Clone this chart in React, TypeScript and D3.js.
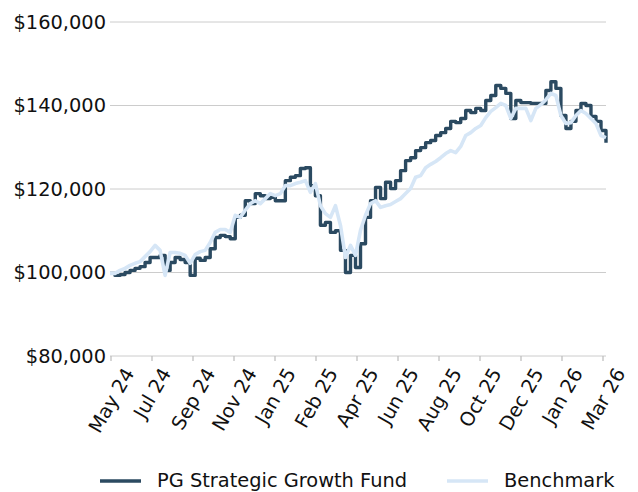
import React, { useRef, useEffect } from "react";
import * as d3 from "d3";

const width = 638;
const height = 492;
const font = "DejaVu Sans";
const fontSize = 19.4;

const tickLabels = [
  "May 24", "Jul 24", "Sep 24", "Nov 24", "Jan 25", "Feb 25", "Apr 25",
  "Jun 25", "Aug 25", "Oct 25", "Dec 25", "Jan 26", "Mar 26",
];
const yTicks = [80000, 100000, 120000, 140000, 160000];

// values in $ thousands, roughly weekly
const fundValues = [
  99.8, 99.3, 99.5, 100, 100.5, 101, 101.4, 102.4, 103.6, 103.6,
  104.1, 100.5, 102.4, 103.6, 103.1, 102.4, 99.3, 103.4, 102.9, 103.6,
  105.7, 108.4, 108.9, 108.6, 108.1, 113.2, 113.7, 117.2, 116.5, 118.9,
  118.4, 117.7, 118, 117.2, 117.2, 122, 122.8, 123.2, 124.9, 125.1,
  120.8, 118.4, 111.3, 112, 109.6, 110, 105.3, 100, 104.1, 101.2,
  106.9, 113.2, 117.2, 120.4, 117.7, 121.6, 120.1, 122, 124.4, 126.8,
  127.5, 129.2, 129.9, 131.1, 131.6, 132.8, 133.5, 134.5, 136.2, 135.9,
  136.9, 138.8, 138.3, 139.3, 138.8, 141.2, 142.4, 144.8, 144.1, 142.9,
  136.9, 141.2, 140.7, 140.7, 140.5, 140.5, 140.5, 143.6, 145.7, 144.1,
  137.6, 134.5, 136.2, 138.8, 140.5, 140, 137.4, 136.2, 134, 131.1,
];
const benchmarkValues = [
  99.8, 99.8, 100.5, 101, 101.7, 102.2, 102.6, 103.8, 105, 106.5,
  105.3, 99.3, 104.8, 104.8, 104.6, 104.1, 102.2, 104.3, 105, 105.3,
  107.2, 109.6, 110.3, 110.3, 109.6, 113.7, 113.2, 114.9, 116.5, 117.2,
  116.5, 117.7, 118.9, 118.4, 118.9, 120.8, 120.8, 121.3, 121.6, 122,
  119.2, 121.3, 116, 114.1, 113.2, 116, 111.3, 103.6, 106.5, 104.1,
  110.1, 113.7, 116.5, 117.2, 115.6, 116, 116.3, 117, 117.7, 118.9,
  120.1, 122.8, 123.2, 125.1, 125.9, 126.6, 127.5, 128.5, 129.2, 128.7,
  130.2, 132.8, 133.5, 134.5, 135.2, 137.1, 138.6, 139.5, 140.5, 140,
  136.9, 139.3, 139.3, 139.3, 136.4, 139.3, 140.2, 141.4, 142.9, 142.4,
  137.6, 135.7, 135.9, 137.6, 138.8, 138.1, 136.9, 135.7, 132.8, 132.3,
];

const fundColor = "#2b4a61";
const benchColor = "#d6e6f6";

export default function App() {
  const svgRef = useRef<SVGSVGElement>(null);

  useEffect(() => {
    const svg = d3.select(svgRef.current);
    svg.selectAll("*").remove();

    const x = d3.scaleLinear().domain([0, fundValues.length - 1]).range([110, 606]);
    const y = d3.scaleLinear().domain([80000, 160000]).range([356, 22]);
    const xt = d3.scalePoint().domain(tickLabels).range([111, 603]);
    const fmt = d3.format("$,.0f");

    // gridlines
    svg.append("g")
      .selectAll("line")
      .data(yTicks)
      .enter()
      .append("line")
      .attr("x1", 110)
      .attr("x2", 606)
      .attr("y1", d => y(d))
      .attr("y2", d => y(d))
      .attr("stroke", "#cccccc")
      .attr("stroke-width", 1);

    svg.append("g")
      .selectAll("text")
      .data(yTicks)
      .enter()
      .append("text")
      .attr("x", 106)
      .attr("y", d => y(d))
      .attr("dy", "0.36em")
      .attr("text-anchor", "end")
      .attr("font-family", font)
      .attr("font-size", fontSize)
      .attr("fill", "#111")
      .text(d => fmt(d));

    // x ticks
    const xg = svg.append("g");
    xg.selectAll("line")
      .data(tickLabels)
      .enter()
      .append("line")
      .attr("x1", d => xt(d)!)
      .attr("x2", d => xt(d)!)
      .attr("y1", 356)
      .attr("y2", 361)
      .attr("stroke", "#bbbbbb")
      .attr("stroke-width", 1.2);

    const h = fontSize * 0.73;
    const s = Math.sin(Math.PI / 3);
    const c = Math.cos(Math.PI / 3);
    xg.selectAll("text")
      .data(tickLabels)
      .enter()
      .append("text")
      .attr("text-anchor", "end")
      .attr("font-family", font)
      .attr("font-size", fontSize)
      .attr("fill", "#111")
      .text(d => d)
      .each(function (d) {
        const L = (this as SVGTextElement).getComputedTextLength();
        const boxW = L * c + h * s;
        const xe = xt(d)! + boxW / 2;
        const ye = 366 + h * c;
        d3.select(this).attr("transform", `translate(${xe},${ye}) rotate(-60)`);
      });

    const fundLine = d3.line<number>()
      .x((_, i) => x(i))
      .y(d => y(d * 1000))
      .curve(d3.curveStepAfter);
    const benchLine = d3.line<number>()
      .x((_, i) => x(i))
      .y(d => y(d * 1000));

    svg.append("path")
      .datum(fundValues)
      .attr("d", fundLine)
      .attr("fill", "none")
      .attr("stroke", fundColor)
      .attr("stroke-width", 3.4)
      .attr("stroke-linejoin", "round");

    svg.append("path")
      .datum(benchmarkValues)
      .attr("d", benchLine)
      .attr("fill", "none")
      .attr("stroke", benchColor)
      .attr("stroke-width", 3.6)
      .attr("stroke-linejoin", "round");

    // legend
    const legend = [
      { label: "PG Strategic Growth Fund", color: fundColor, x: 100 },
      { label: "Benchmark", color: benchColor, x: 447 },
    ];
    const lg = svg.append("g");
    legend.forEach(item => {
      lg.append("line")
        .attr("x1", item.x)
        .attr("x2", item.x + 41)
        .attr("y1", 481)
        .attr("y2", 481)
        .attr("stroke", item.color)
        .attr("stroke-width", 3.4);
      lg.append("text")
        .attr("x", item.x + 57)
        .attr("y", 480)
        .attr("dy", "0.36em")
        .attr("font-family", font)
        .attr("font-size", fontSize)
        .attr("fill", "#111")
        .text(item.label);
    });
  }, []);

  return (
    <svg
      ref={svgRef}
      width={width}
      height={height}
      style={{ position: "absolute", left: 0, top: 0, background: "#fff" }}
    ></svg>
  );
}
